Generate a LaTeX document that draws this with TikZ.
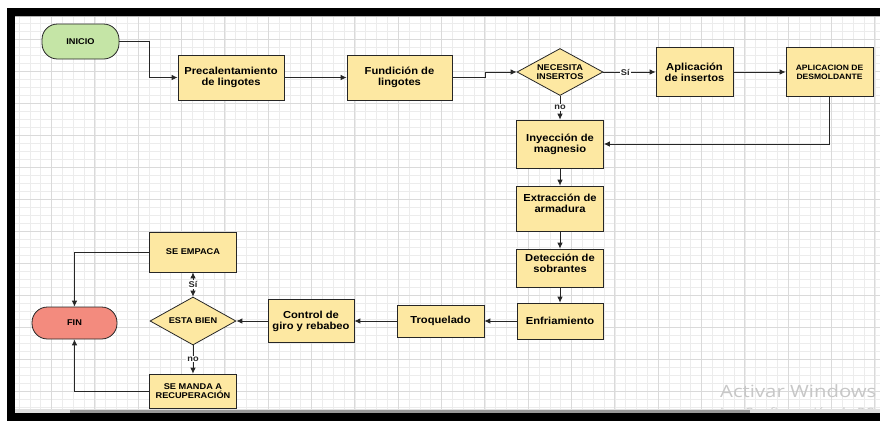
\documentclass[tikz,border=0pt]{standalone}
\usepackage{fontspec}
\setmainfont{Liberation Sans}
\newfontfamily\flowfont[FakeStretch=1.1]{Liberation Sans}
\newfontfamily\winfont[FakeStretch=1.2]{Open Sans}
\usepackage{tikz}
\usetikzlibrary{arrows.meta, shapes}

\definecolor{procfill}{RGB}{253,232,162}
\definecolor{startfill}{RGB}{197,229,166}
\definecolor{endfill}{RGB}{243,139,126}
\definecolor{gridminor}{RGB}{236,236,236}
\definecolor{gridmajor}{RGB}{218,218,218}

\tikzset{
  proc/.style     = {draw=black!85, fill=procfill, line width=0.8pt, inner sep=0pt, align=center,
                     font=\flowfont\bfseries\fontsize{10.2}{11}\selectfont},
  caps/.style     = {proc, font=\flowfont\bfseries\fontsize{8.4}{9.5}\selectfont},
  decision/.style = {caps, diamond, aspect=1.8},
  term/.style     = {caps, rounded corners=15.5bp},
  lbl/.style      = {fill=white, inner sep=1pt, font=\flowfont\bfseries\fontsize{8.4}{9}\selectfont},
  flow/.style     = {draw, black!85, line width=0.8pt},
  >={Latex[length=6pt, width=5.5pt]},
}

\begin{document}
\begin{tikzpicture}[x=1bp, y=-1bp]

\useasboundingbox (0,0) rectangle (880,420);
\fill [white] (-10,-10) rectangle (890,430);

\begin{scope}
  \clip (15,16) rectangle (890,409);
  \draw [gridminor, line width=0.7pt, shift={(8.2,7.3)}, xstep=10.833bp, ystep=8bp] (-20,430) grid (900,-20);
  \draw [gridmajor, line width=1pt,   shift={(8.2,7.3)}, xstep=43.333bp, ystep=32bp] (-20,430) grid (900,-20);
\end{scope}

\node [term, fill=startfill, minimum width=77bp,  minimum height=35bp] (0)  at (80.5,41.5) {INICIO};
\node [proc,                 minimum width=106bp, minimum height=45bp] (1)  at (231,77.5)  {Precalentamiento\\de lingotes};
\node [proc,                 minimum width=105bp, minimum height=45bp] (2)  at (399.5,77.5) {Fundición de\\lingotes};
\node [decision,             minimum width=86bp,  minimum height=47bp] (3)  at (560,72)    {NECESITA\\INSERTOS};
\node [proc,                 minimum width=77bp,  minimum height=49bp] (4)  at (694.5,72)  {Aplicación\\de insertos};
\node [caps, font=\flowfont\bfseries\fontsize{7.8}{9}\selectfont,
                             minimum width=87bp,  minimum height=49bp] (5)  at (829.5,72)  {APLICACION DE\\DESMOLDANTE};
\node [proc,                 minimum width=87bp,  minimum height=48bp] (6)  at (560,144)   {Inyección de\\magnesio};
\node [proc, text depth=10pt, minimum width=87bp, minimum height=45bp] (7)  at (560,208.5) {Extracción de\\armadura};
\node [proc, text depth=9pt, minimum width=87bp,  minimum height=38bp] (8)  at (560,268)   {Detección de\\sobrantes};
\node [proc,                 minimum width=86bp,  minimum height=36bp] (9)  at (560,321)   {Enfriamiento};
\node [proc,                 minimum width=87bp,  minimum height=32bp] (10) at (440.5,321) {Troquelado};
\node [proc,                 minimum width=86bp,  minimum height=43bp] (11) at (311,321)   {Control de\\giro y rebabeo};
\node [decision,             minimum width=86bp,  minimum height=48bp] (12) at (193,321)   {ESTA BIEN};
\node [caps,                 minimum width=87bp,  minimum height=40bp] (13) at (193,252)   {SE EMPACA};
\node [caps,                 minimum width=87bp,  minimum height=34bp] (14) at (193,391)   {SE MANDA A\\RECUPERACIÓN};
\node [term, fill=endfill,   minimum width=85bp,  minimum height=32bp] (15) at (74.5,323)  {FIN};

\path [flow, ->] (0.east) -- ++(29.5,0) |- (1.west);
\path [flow, ->] (1) edge (2);
\path [flow, ->] (2.east) -- ++(32.5,0) |- (3.west);
\path [flow, ->] (3) edge node [lbl, pos=0.42] {Sí} (4);
\path [flow, ->] (4) edge (5);
\path [flow, ->] (5.south) |- (6.east);
\path [flow, ->] (3) edge node [lbl, pos=0.48] {no} (6);
\path [flow, ->] (6) edge (7) (7) edge (8) (8) edge (9);
\path [flow, ->] (9) edge (10) (10) edge (11) (11) edge (12);
\path [flow, <->] (12) edge node [lbl, pos=0.5] {Sí} (13);
\path [flow, ->] (12) edge node [lbl, pos=0.48] {no} (14);
\path [flow, ->] (13.west) -| (15.north);
\path [flow, ->] (14.west) -| (15.south);

\begin{scope}
  \clip (0,0) rectangle (880,420);
  \node [anchor=base west, inner sep=0pt, text=black!22, font=\winfont\fontsize{17}{18}\selectfont] (16) at (720,397) {Activar Windows};
  \node [anchor=base west, inner sep=0pt, text=black!22, font=\winfont\fontsize{11.5}{12}\selectfont] (17) at (720,416) {Ir a Configuración de PC};
\end{scope}

\fill [black]    (7,8) rectangle (890,16);
\fill [black!30] (15,16) rectangle (890,17);
\fill [black]    (7,8) rectangle (15,430);
\fill [black!12] (15,409) rectangle (890,413);
\fill [black!40] (70,410) rectangle (750,413);
\fill [black]    (7,413) rectangle (890,430);

\end{tikzpicture}
\end{document}
